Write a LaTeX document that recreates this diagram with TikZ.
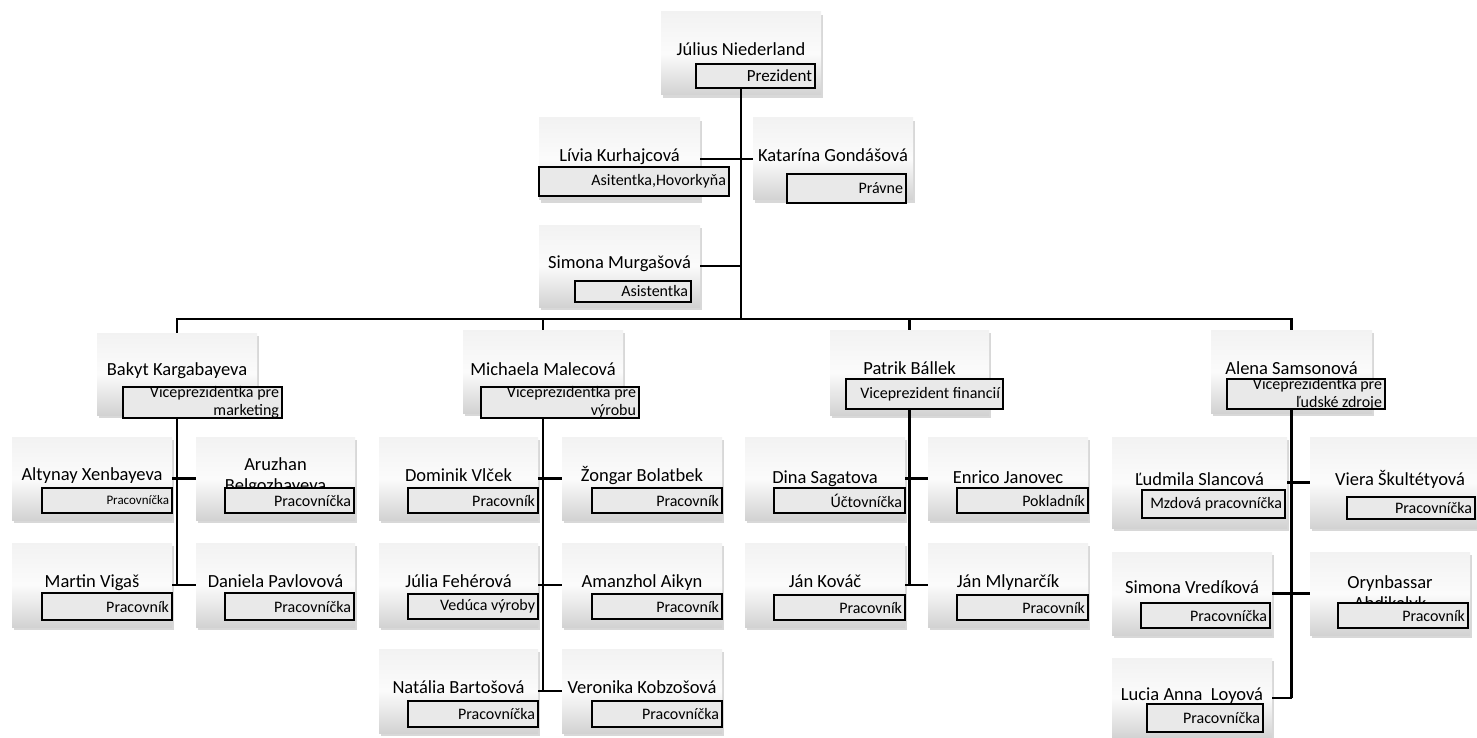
\documentclass[tikz,border=0pt]{standalone}
\usepackage{fontspec}
\setmainfont{Carlito}
\usetikzlibrary{shadows,fit,calc}
\tikzset{
 pbox/.style={rectangle, inner sep=0pt, top color=gray!10, bottom color=gray!35, middle color=gray!3,
   drop shadow={opacity=0.3, shadow xshift=1.5pt, shadow yshift=-3pt}},
 nm/.style={inner sep=0pt, font=\fontsize{18.5}{21}\selectfont, anchor=base},
 nmtwo/.style={inner sep=0pt, font=\fontsize{18.5}{21}\selectfont, align=center, anchor=center},
 rlbox/.style={rectangle, draw=black, line width=1.6pt, fill=gray!17, inner sep=0pt},
 rltext/.style={inner xsep=3pt, inner ysep=0pt, align=flush right},
 conn/.style={line width=2.2pt, black},
}
\newcommand\pers[7]{%
  \node[pbox, fit={(#2,#3)(#4,#5)}] (#1) {};
  \node[nm] (#1n) at ({(#2+#4)/2},#7) {#6};
}
\newcommand\persII[7]{%
  \node[pbox, fit={(#2,#3)(#4,#5)}] (#1) {};
  \node[nmtwo] (#1n) at ({(#2+#4)/2},#7) {#6};
}
\newcommand\role[7][16]{%
  \node[rlbox, fit={(#3,#4)(#5,#6)}] (#2) {};
  \pgfmathsetmacro\rtw{#5-#3-6}%
  \node[rltext, text width=\rtw pt, font=\fontsize{#1}{18}\selectfont] (#2t) at (#2.center) {#7};
}
\begin{document}
\begin{tikzpicture}[x=1pt,y=-1pt]
\useasboundingbox (0,0) rectangle (1477,738);
\fill[white] (0,0) rectangle (1477,738);

\pers{jn}{661}{12}{821}{95}{Július Niederland}{56}
\role[17]{jnr}{696}{64}{815}{88}{Prezident}
\pers{liv}{539}{118}{700}{200}{Lívia Kurhajcová}{162}
\role{livr}{539}{167}{729}{196}{Asitentka,Hovorkyňa}
\pers{kat}{753}{118}{913}{200}{Katarína Gondášová}{162}
\role{katr}{787}{174}{906}{203}{Právne}
\pers{sim}{539}{225}{700}{307}{Simona Murgašová}{268}
\role{simr}{575}{281}{691}{302}{Asistentka}

\pers{bak}{97}{333}{257}{415}{Bakyt Kargabayeva}{375}
\role{bakr}{123}{387}{282}{418}{Viceprezidentka pre\\marketing}
\pers{mic}{463}{330}{623}{413}{Michaela Malecová}{375}
\role{micr}{481}{387}{639}{418}{Viceprezidentka pre\\výrobu}
\pers{pat}{830}{330}{989}{415}{Patrik Bállek}{374}
\role{patr}{846}{379}{1003}{409}{Viceprezident financií}
\pers{ale}{1211}{330}{1372}{413}{Alena Samsonová}{374}
\role{aler}{1227}{379}{1385}{409}{Viceprezidentka pre\\ľudské zdroje}

\pers{alt}{12}{437}{172}{520}{Altynay Xenbayeva}{480}
\role[13]{altr}{42}{488}{172}{513}{Pracovníčka}
\persII{aru}{196}{437}{355}{520}{Aruzhan\\Belgozhayeva}{476}
\role{arur}{225}{488}{354}{513}{Pracovníčka}
\pers{mar}{12}{543}{172}{627}{Martin Vigaš}{587}
\role{marr}{42}{593}{172}{620}{Pracovník}
\pers{dan}{196}{543}{355}{627}{Daniela Pavlovová}{587}
\role{danr}{225}{593}{354}{620}{Pracovníčka}

\pers{dom}{379}{437}{538}{520}{Dominik Vlček}{481}
\role{domr}{408}{488}{538}{513}{Pracovník}
\pers{zon}{562}{437}{722}{520}{Žongar Bolatbek}{481}
\role{zonr}{592}{488}{722}{513}{Pracovník}
\pers{jul}{379}{543}{538}{627}{Júlia Fehérová}{587}
\role{julr}{408}{594}{538}{619}{Vedúca výroby}
\pers{ama}{562}{543}{722}{627}{Amanzhol Aikyn}{587}
\role{amar}{592}{594}{722}{619}{Pracovník}
\pers{nat}{379}{649}{538}{733}{Natália Bartošová}{693}
\role{natr}{408}{701}{538}{727}{Pracovníčka}
\pers{ver}{562}{649}{722}{733}{Veronika Kobzošová}{693}
\role{verr}{592}{701}{722}{727}{Pracovníčka}

\pers{din}{745}{437}{905}{520}{Dina Sagatova}{483}
\role{dinr}{774}{488}{905}{513}{Účtovníčka}
\pers{enr}{928}{437}{1088}{520}{Enrico Janovec}{483}
\role{enrr}{957}{488}{1088}{513}{Pokladník}
\pers{jko}{745}{543}{905}{627}{Ján Kováč}{587}
\role{jkor}{774}{595}{905}{620}{Pracovník}
\pers{jml}{928}{543}{1088}{627}{Ján Mlynarčík}{587}
\role{jmlr}{957}{595}{1088}{620}{Pracovník}

\pers{lud}{1112}{437}{1287}{528}{Ľudmila Slancová}{485}
\role{ludr}{1142}{490}{1285}{518}{Mzdová pracovníčka}
\pers{vie}{1310}{437}{1490}{528}{Viera Škultétyová}{485}
\role{vier}{1347}{497}{1475}{519}{Pracovníčka}
\pers{smv}{1112}{552}{1272}{635}{Simona Vredíková}{593}
\role{smvr}{1141}{603}{1270}{628}{Pracovníčka}
\persII{ory}{1310}{552}{1470}{635}{Orynbassar\\Abdikalyk}{594}
\role{oryr}{1338}{603}{1468}{628}{Pracovník}
\pers{luc}{1112}{658}{1272}{738}{Lucia Anna\ \ Loyová}{700}
\role{lucr}{1147}{704}{1263}{732}{Pracovníčka}

% connectors
\coordinate (bar) at (741,319);
\draw[conn] (jnr.south -| jn.south) -- (bar);
\draw[conn] (liv.east) -- (kat.west);
\draw[conn] (sim.east) -- (sim.east -| bar);
\draw[conn] (bak.north) -- (bak.north |- bar) -- (ale.north |- bar) -- (ale.north);
\draw[conn] (mic.north |- bar) -- (mic.north);
\draw[conn] (pat.north |- bar) -- (pat.north);

\draw[conn] (bakr.south -| bak.south) -- (bak.south |- mar.east);
\draw[conn] (alt.east) -- (aru.west);
\draw[conn] (mar.east) -- (dan.west);

\draw[conn] (micr.south -| mic.south) -- (mic.south |- nat.east);
\draw[conn] (dom.east) -- (zon.west);
\draw[conn] (jul.east) -- (ama.west);
\draw[conn] (nat.east) -- (ver.west);

\draw[conn] (patr.south -| pat.south) -- (pat.south |- jko.east);
\draw[conn] (din.east) -- (enr.west);
\draw[conn] (jko.east) -- (jml.west);

\draw[conn] (aler.south -| ale.south) -- (ale.south |- luc.east);
\draw[conn] (lud.east) -- (vie.west);
\draw[conn] (smv.east) -- (ory.west);
\draw[conn] (luc.east) -- (luc.east -| ale.south);
\end{tikzpicture}
\end{document}
